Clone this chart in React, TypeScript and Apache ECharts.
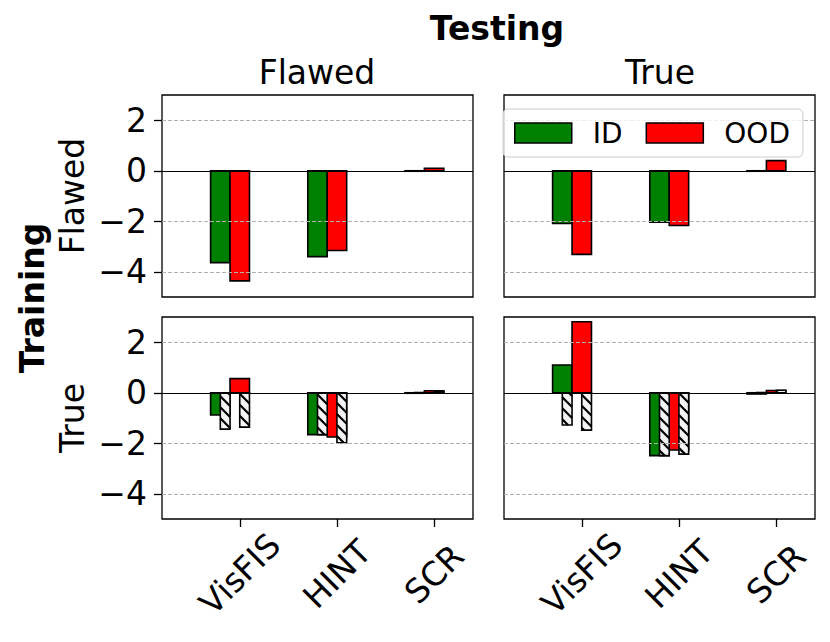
import React, { useEffect, useRef } from 'react';
import * as echarts from 'echarts';

const categories = ['VisFIS', 'HINT', 'SCR'];
const yTicks = [2, 0, -2, -4];
const gridTicks = [2, -2, -4];
const xTicks = [0, 1, 2];
const testSets = ['Flawed', 'True'];
const trainSets = ['Flawed', 'True'];
const seriesNames = ['ID', 'OOD'];

// Train Flawed / Test Flawed
const flawedFlawedID = [-3.64, -3.4, -0.02];
const flawedFlawedOOD = [-4.36, -3.16, 0.1];
// Train Flawed / Test True
const flawedTrueID = [-2.09, -2.04, -0.02];
const flawedTrueOOD = [-3.31, -2.17, 0.4];
// Train True / Test Flawed
const trueFlawedID = [-0.88, -1.66, -0.02];
const trueFlawedOOD = [0.56, -1.75, 0.08];
const trueFlawedIDHatched = [-1.44, -1.66, 0.01];
const trueFlawedOODHatched = [-1.36, -1.98, 0.05];
// Train True / Test True
const trueTrueID = [1.1, -2.49, -0.05];
const trueTrueOOD = [2.81, -2.27, 0.09];
const trueTrueIDHatched = [-1.28, -2.49, 0.01];
const trueTrueOODHatched = [-1.48, -2.43, 0.1];

const FONT = "'DejaVu Sans', sans-serif";
const GREEN = '#008000';
const RED = '#ff0000';

function toData(vals: number[]) {
  return vals.map((v, i) => [i, v]);
}

function solidBar(offset: number, width: number, color: string) {
  return (params: any, api: any) => {
    const c = api.value(0);
    const v = api.value(1);
    const a = api.coord([c + offset - width / 2, 0]);
    const b = api.coord([c + offset + width / 2, v]);
    const y0 = Math.min(a[1], b[1]);
    const y1 = Math.max(a[1], b[1]);
    return {
      type: 'rect',
      shape: { x: a[0], y: y0, width: b[0] - a[0], height: y1 - y0 },
      style: { fill: color, stroke: '#000', lineWidth: 1.6 },
    };
  };
}

function hatchBar(offset: number, width: number) {
  return (params: any, api: any) => {
    const c = api.value(0);
    const v = api.value(1);
    const a = api.coord([c + offset - width / 2, 0]);
    const b = api.coord([c + offset + width / 2, v]);
    const x0 = a[0];
    const x1 = b[0];
    const y0 = Math.min(a[1], b[1]);
    const y1 = Math.max(a[1], b[1]);
    const children: any[] = [
      { type: 'rect', shape: { x: x0, y: y0, width: x1 - x0, height: y1 - y0 }, style: { fill: '#f4f4f4' } },
    ];
    const P = 11;
    const cMin = y0 - x1;
    const cMax = y1 - x0;
    for (let k = Math.ceil(cMin / P); k * P <= cMax; k++) {
      const cc = k * P;
      const xs = Math.max(x0, y0 - cc);
      const xe = Math.min(x1, y1 - cc);
      if (xe > xs) {
        children.push({
          type: 'line',
          shape: { x1: xs, y1: xs + cc, x2: xe, y2: xe + cc },
          style: { stroke: '#000', lineWidth: 2.2 },
        });
      }
    }
    children.push({
      type: 'rect',
      shape: { x: x0, y: y0, width: x1 - x0, height: y1 - y0 },
      style: { fill: 'none', stroke: '#000', lineWidth: 1.6 },
    });
    return { type: 'group', children };
  };
}

const panels = [
  { left: 162, top: 95, id: flawedFlawedID, ood: flawedFlawedOOD, idH: null, oodH: null, showY: true, showX: false },
  { left: 504, top: 95, id: flawedTrueID, ood: flawedTrueOOD, idH: null, oodH: null, showY: false, showX: false },
  { left: 162, top: 317, id: trueFlawedID, ood: trueFlawedOOD, idH: trueFlawedIDHatched, oodH: trueFlawedOODHatched, showY: true, showX: true },
  { left: 504, top: 317, id: trueTrueID, ood: trueTrueOOD, idH: trueTrueIDHatched, oodH: trueTrueOODHatched, showY: false, showX: true },
];

function buildOption() {
  const grid: any[] = [];
  const xAxis: any[] = [];
  const yAxis: any[] = [];
  const series: any[] = [];
  panels.forEach((p, i) => {
    grid.push({
      left: p.left,
      top: p.top,
      width: 311,
      height: 202,
      show: true,
      borderColor: '#000',
      borderWidth: 1.3,
      backgroundColor: 'transparent',
    });
    xAxis.push({
      type: 'value',
      gridIndex: i,
      min: -0.8,
      max: 2.4,
      splitLine: { show: false },
      axisLine: { show: false, onZero: false },
      axisTick: { show: p.showX, customValues: xTicks, length: 8, lineStyle: { color: '#000', width: 1.3 } },
      axisLabel: {
        show: p.showX,
        customValues: xTicks,
        formatter: (v: number) => categories[Math.round(v)],
        rotate: 45,
        align: 'center',
        verticalAlign: 'middle',
        margin: 55,
        fontSize: 33,
        color: '#000',
        fontFamily: FONT,
      },
    });
    yAxis.push({
      type: 'value',
      gridIndex: i,
      min: -5,
      max: 3,
      splitLine: { show: false },
      axisLine: { show: false, onZero: false },
      axisTick: { show: p.showY, customValues: yTicks, length: 8, lineStyle: { color: '#000', width: 1.3 } },
      axisLabel: {
        show: p.showY,
        customValues: yTicks,
        formatter: (v: number) => String(v).replace('-', '\u2212'),
        margin: 15,
        fontSize: 33,
        color: '#000',
        fontFamily: FONT,
      },
    });
    series.push({
      type: 'custom',
      name: seriesNames[0],
      xAxisIndex: i,
      yAxisIndex: i,
      itemStyle: { color: GREEN },
      renderItem: solidBar(-0.2, 0.2, GREEN),
      data: toData(p.id),
      z: 2,
    });
    series.push({
      type: 'custom',
      name: seriesNames[1],
      xAxisIndex: i,
      yAxisIndex: i,
      itemStyle: { color: RED },
      renderItem: solidBar(0, 0.2, RED),
      data: toData(p.ood),
      z: 2,
    });
    if (p.idH) {
      series.push({
        type: 'custom',
        name: 'ID hatched',
        xAxisIndex: i,
        yAxisIndex: i,
        renderItem: hatchBar(-0.15, 0.1),
        data: toData(p.idH),
        z: 3,
      });
    }
    if (p.oodH) {
      series.push({
        type: 'custom',
        name: 'OOD hatched',
        xAxisIndex: i,
        yAxisIndex: i,
        renderItem: hatchBar(0.05, 0.1),
        data: toData(p.oodH),
        z: 3,
      });
    }
    series.push({
      type: 'line',
      name: 'grid' + i,
      xAxisIndex: i,
      yAxisIndex: i,
      data: [],
      z: 5,
      markLine: {
        silent: true,
        symbol: ['none', 'none'],
        label: { show: false },
        animation: false,
        data: [
          ...gridTicks.map((t) => ({ yAxis: t, lineStyle: { type: [4, 2], color: '#b0b0b0', width: 1 } })),
          { yAxis: 0, lineStyle: { type: 'solid', color: '#000', width: 1.2 } },
        ],
      },
    });
  });

  const textStyle = (extra: any) => ({
    fill: '#000',
    fontFamily: FONT,
    align: 'center',
    verticalAlign: 'middle',
    textAlign: 'center',
    textVerticalAlign: 'middle',
    ...extra,
  });

  const graphic: any[] = [
    { type: 'text', x: 497, y: 28, style: textStyle({ text: 'Testing', fontSize: 33, fontWeight: 'bold' }) },
    { type: 'text', x: 317, y: 72, style: textStyle({ text: testSets[0], fontSize: 33 }) },
    { type: 'text', x: 660, y: 72, style: textStyle({ text: testSets[1], fontSize: 33 }) },
    { type: 'text', x: 32, y: 298, rotation: Math.PI / 2, style: textStyle({ text: 'Training', fontSize: 33, fontWeight: 'bold' }) },
    { type: 'text', x: 72, y: 196, rotation: Math.PI / 2, style: textStyle({ text: trainSets[0], fontSize: 33 }) },
    { type: 'text', x: 72, y: 418, rotation: Math.PI / 2, style: textStyle({ text: trainSets[1], fontSize: 33 }) },
  ];

  return {
    animation: false,
    backgroundColor: '#ffffff',
    grid,
    xAxis,
    yAxis,
    series,
    graphic,
    legend: {
      data: seriesNames,
      left: 503,
      top: 109,
      orient: 'horizontal',
      icon: 'rect',
      itemWidth: 57,
      itemHeight: 20,
      itemGap: 23,
      padding: [10, 13, 10, 11],
      backgroundColor: 'rgba(255,255,255,0.8)',
      borderColor: '#cccccc',
      borderWidth: 1,
      borderRadius: 5,
      selectedMode: false,
      itemStyle: { borderColor: '#000', borderWidth: 1.5 },
      textStyle: { fontSize: 28, color: '#000', fontFamily: FONT, padding: [0, 0, 0, 16] },
      z: 10,
    },
  };
}

export default function App() {
  const ref = useRef<HTMLDivElement>(null);
  useEffect(() => {
    if (!ref.current) return;
    const chart = echarts.init(ref.current, null, { renderer: 'svg' });
    chart.setOption(buildOption() as any);
    return () => {
      chart.dispose();
    };
  }, []);
  return <div ref={ref} style={{ position: 'fixed', left: 0, top: 0, width: 830, height: 642 }} />;
}
